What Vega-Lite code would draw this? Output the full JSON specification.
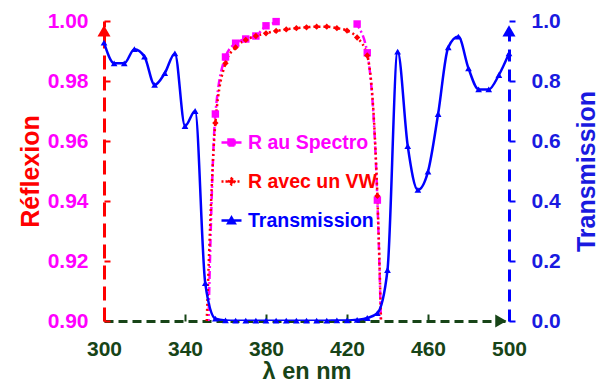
{
  "$schema": "https://vega.github.io/schema/vega-lite/v6.json",
  "width": 405,
  "height": 300,
  "autosize": {"type": "none"},
  "padding": {"left": 104, "top": 21, "right": 91, "bottom": 62},
  "background": "white",
  "config": {
    "view": {"stroke": null},
    "font": "Liberation Sans",
    "axis": {"grid": false, "labelFlush": false, "labelOverlap": false}
  },
  "datasets": {
    "refl": [
      {"lambda": 350, "R": 0.85, "series": "R au Spectro"},
      {"lambda": 355, "R": 0.969, "series": "R au Spectro"},
      {"lambda": 360, "R": 0.988, "series": "R au Spectro"},
      {"lambda": 365, "R": 0.9926, "series": "R au Spectro"},
      {"lambda": 370, "R": 0.994, "series": "R au Spectro"},
      {"lambda": 375, "R": 0.995, "series": "R au Spectro"},
      {"lambda": 380, "R": 0.9984, "series": "R au Spectro"},
      {"lambda": 385, "R": 0.9998, "series": "R au Spectro"},
      {"lambda": 390, "R": 1.004, "series": "R au Spectro"},
      {"lambda": 395, "R": 1.006, "series": "R au Spectro"},
      {"lambda": 400, "R": 1.007, "series": "R au Spectro"},
      {"lambda": 405, "R": 1.007, "series": "R au Spectro"},
      {"lambda": 410, "R": 1.007, "series": "R au Spectro"},
      {"lambda": 415, "R": 1.006, "series": "R au Spectro"},
      {"lambda": 420, "R": 1.004, "series": "R au Spectro"},
      {"lambda": 425, "R": 0.999, "series": "R au Spectro"},
      {"lambda": 430, "R": 0.9894, "series": "R au Spectro"},
      {"lambda": 435, "R": 0.9403, "series": "R au Spectro"},
      {"lambda": 440, "R": 0.8, "series": "R au Spectro"},
      {"lambda": 350, "R": 0.885, "series": "R avec un VW"},
      {"lambda": 355, "R": 0.966, "series": "R avec un VW"},
      {"lambda": 360, "R": 0.9859, "series": "R avec un VW"},
      {"lambda": 365, "R": 0.9912, "series": "R avec un VW"},
      {"lambda": 370, "R": 0.9937, "series": "R avec un VW"},
      {"lambda": 375, "R": 0.995, "series": "R avec un VW"},
      {"lambda": 380, "R": 0.9959, "series": "R avec un VW"},
      {"lambda": 385, "R": 0.9967, "series": "R avec un VW"},
      {"lambda": 390, "R": 0.9972, "series": "R avec un VW"},
      {"lambda": 395, "R": 0.9976, "series": "R avec un VW"},
      {"lambda": 400, "R": 0.9979, "series": "R avec un VW"},
      {"lambda": 405, "R": 0.9981, "series": "R avec un VW"},
      {"lambda": 410, "R": 0.9981, "series": "R avec un VW"},
      {"lambda": 415, "R": 0.9976, "series": "R avec un VW"},
      {"lambda": 420, "R": 0.9968, "series": "R avec un VW"},
      {"lambda": 425, "R": 0.9945, "series": "R avec un VW"},
      {"lambda": 430, "R": 0.9885, "series": "R avec un VW"},
      {"lambda": 435, "R": 0.9417, "series": "R avec un VW"},
      {"lambda": 440, "R": 0.8, "series": "R avec un VW"}
    ],
    "trans": [
      {"lambda": 300, "T": 0.928, "series": "Transmission"},
      {"lambda": 305, "T": 0.859, "series": "Transmission"},
      {"lambda": 310, "T": 0.859, "series": "Transmission"},
      {"lambda": 315, "T": 0.906, "series": "Transmission"},
      {"lambda": 320, "T": 0.881, "series": "Transmission"},
      {"lambda": 325, "T": 0.787, "series": "Transmission"},
      {"lambda": 330, "T": 0.826, "series": "Transmission"},
      {"lambda": 335, "T": 0.892, "series": "Transmission"},
      {"lambda": 340, "T": 0.65, "series": "Transmission"},
      {"lambda": 345, "T": 0.7, "series": "Transmission"},
      {"lambda": 350, "T": 0.126, "series": "Transmission"},
      {"lambda": 355, "T": 0.008, "series": "Transmission"},
      {"lambda": 360, "T": 0.002, "series": "Transmission"},
      {"lambda": 365, "T": 0.001, "series": "Transmission"},
      {"lambda": 370, "T": 0.001, "series": "Transmission"},
      {"lambda": 375, "T": 0.001, "series": "Transmission"},
      {"lambda": 380, "T": 0.001, "series": "Transmission"},
      {"lambda": 385, "T": 0.001, "series": "Transmission"},
      {"lambda": 390, "T": 0.001, "series": "Transmission"},
      {"lambda": 395, "T": 0.001, "series": "Transmission"},
      {"lambda": 400, "T": 0.001, "series": "Transmission"},
      {"lambda": 405, "T": 0.001, "series": "Transmission"},
      {"lambda": 410, "T": 0.001, "series": "Transmission"},
      {"lambda": 415, "T": 0.002, "series": "Transmission"},
      {"lambda": 420, "T": 0.002, "series": "Transmission"},
      {"lambda": 425, "T": 0.004, "series": "Transmission"},
      {"lambda": 430, "T": 0.01, "series": "Transmission"},
      {"lambda": 435, "T": 0.026, "series": "Transmission"},
      {"lambda": 440, "T": 0.17, "series": "Transmission"},
      {"lambda": 445, "T": 0.898, "series": "Transmission"},
      {"lambda": 450, "T": 0.583, "series": "Transmission"},
      {"lambda": 455, "T": 0.437, "series": "Transmission"},
      {"lambda": 460, "T": 0.498, "series": "Transmission"},
      {"lambda": 465, "T": 0.69, "series": "Transmission"},
      {"lambda": 470, "T": 0.912, "series": "Transmission"},
      {"lambda": 475, "T": 0.948, "series": "Transmission"},
      {"lambda": 480, "T": 0.842, "series": "Transmission"},
      {"lambda": 485, "T": 0.772, "series": "Transmission"},
      {"lambda": 490, "T": 0.772, "series": "Transmission"},
      {"lambda": 495, "T": 0.82, "series": "Transmission"},
      {"lambda": 500, "T": 0.892, "series": "Transmission"}
    ]
  },
  "layer": [
    {
      "data": {"name": "refl"},
      "layer": [
        {
          "mark": {"type": "line", "clip": true, "interpolate": "monotone", "strokeWidth": 2.5},
          "encoding": {
            "x": {
              "field": "lambda", "type": "quantitative",
              "scale": {"domain": [300, 500], "nice": false, "zero": false},
              "axis": {
                "values": [300, 340, 380, 420, 460, 500], "format": "d",
                "title": "λ en nm", "titleFontSize": 23.5, "titleFontWeight": "bold", "titleColor": "#174417", "titlePadding": 0,
                "labelFontSize": 21, "labelFontWeight": "bold", "labelColor": "#174417", "labelPadding": 24,
                "domainColor": "#174417", "domainDash": [9, 5], "domainWidth": 3,
                "tickColor": "#174417", "tickSize": -7, "tickWidth": 2
              }
            },
            "y": {
              "field": "R", "type": "quantitative",
              "scale": {"domain": [0.9, 1.0], "nice": false, "zero": false},
              "axis": {
                "orient": "left", "values": [0.9, 0.92, 0.94, 0.96, 0.98, 1.0], "format": ".2f",
                "title": "Réflexion", "titleFontSize": 25, "titleFontWeight": "bold", "titleColor": "#ff0000", "titlePadding": 4,
                "labelFontSize": 21, "labelFontWeight": "bold", "labelColor": "#ff00ff", "labelPadding": 22,
                "domainColor": "#ff0000", "domainDash": [14, 7], "domainWidth": 3,
                "tickColor": "#ff0000", "tickSize": -6, "tickWidth": 2
              }
            },
            "color": {
              "field": "series", "type": "nominal",
              "scale": {"domain": ["R au Spectro", "R avec un VW", "Transmission"], "range": ["#ff00ff", "#ff0000", "#0000ff"]},
              "legend": {
                "orient": "none", "legendX": 116, "legendY": 110, "title": null,
                "labelFontSize": 19.5, "labelFontWeight": "bold", "labelOffset": 5,
                "symbolSize": 400, "symbolStrokeWidth": 2.5, "rowPadding": 18, "padding": 0,
                "encode": {
                  "symbols": {"update": {
                    "shape": {"signal": "datum.value === 'R au Spectro' ? 'M-1,0H1M-0.3,-0.3H0.3V0.3H-0.3Z' : datum.value === 'R avec un VW' ? 'M-1,0H1M0,-0.3L0.3,0L0,0.3L-0.3,0Z' : 'M-1,0H1M-0.33,0.28L0,-0.3L0.33,0.28Z'"},
                    "fill": {"signal": "datum.value === 'R au Spectro' ? '#ff00ff' : datum.value === 'R avec un VW' ? '#ff0000' : '#0000ff'"},
                    "stroke": {"signal": "datum.value === 'R au Spectro' ? '#ff00ff' : datum.value === 'R avec un VW' ? '#ff0000' : '#0000ff'"},
                    "strokeDash": {"signal": "datum.value === 'R avec un VW' ? [2, 2] : [1, 0]"},
                    "opacity": {"value": 1}
                  }},
                  "labels": {"update": {
                    "fill": {"signal": "datum.value === 'R au Spectro' ? '#ff00ff' : datum.value === 'R avec un VW' ? '#ff0000' : '#0000ff'"}
                  }}
                }
              }
            },
            "strokeDash": {
              "field": "series", "type": "nominal",
              "scale": {"domain": ["R au Spectro", "R avec un VW"], "range": [[8, 3, 2, 3], [2, 3]]},
              "legend": null
            }
          }
        },
        {
          "transform": [{"filter": "datum.series === 'R au Spectro' && datum.R >= 0.9 && datum.R <= 1.0"}],
          "mark": {"type": "point", "shape": "square", "filled": true, "size": 55, "opacity": 1, "color": "#ff00ff"},
          "encoding": {
            "x": {"field": "lambda", "type": "quantitative"},
            "y": {"field": "R", "type": "quantitative"}
          }
        },
        {
          "transform": [{"filter": "datum.series === 'R avec un VW' && datum.R >= 0.9 && datum.R <= 1.0"}],
          "mark": {"type": "point", "shape": "diamond", "filled": true, "size": 40, "opacity": 1, "color": "#ff0000"},
          "encoding": {
            "x": {"field": "lambda", "type": "quantitative"},
            "y": {"field": "R", "type": "quantitative"}
          }
        },
        {
          "data": {"values": [{"what": "arrow"}]},
          "mark": {"type": "point", "shape": "triangle-up", "filled": true, "size": 170, "opacity": 1, "color": "#ff0000"},
          "encoding": {
            "x": {"datum": 300, "type": "quantitative"},
            "y": {"datum": 0.9967, "type": "quantitative"}
          }
        },
        {
          "data": {"values": [{"what": "arrow"}]},
          "mark": {"type": "point", "shape": "triangle-right", "filled": true, "size": 170, "opacity": 1, "color": "#174417"},
          "encoding": {
            "x": {"datum": 496, "type": "quantitative"},
            "y": {"datum": 0.9, "type": "quantitative"}
          }
        }
      ]
    },
    {
      "data": {"name": "trans"},
      "layer": [
        {
          "mark": {"type": "line", "clip": true, "interpolate": "monotone", "strokeWidth": 2.5},
          "encoding": {
            "x": {"field": "lambda", "type": "quantitative"},
            "y": {
              "field": "T", "type": "quantitative",
              "scale": {"domain": [0, 1], "nice": false, "zero": false},
              "axis": {
                "orient": "right", "values": [0, 0.2, 0.4, 0.6, 0.8, 1.0], "format": ".1f",
                "title": "Transmission", "titleFontSize": 25, "titleFontWeight": "bold", "titleColor": "#1a1ae0", "titlePadding": 14,
                "titleAngle": 270, "titleBaseline": "top",
                "labelFontSize": 21, "labelFontWeight": "bold", "labelColor": "#1a1ae0", "labelPadding": 16,
                "domainColor": "#0000ff", "domainDash": [12, 8], "domainWidth": 3,
                "tickColor": "#0000ff", "tickSize": 6, "tickWidth": 2
              }
            },
            "color": {"field": "series", "type": "nominal"}
          }
        },
        {
          "mark": {"type": "point", "shape": "triangle-up", "filled": true, "size": 45, "opacity": 1, "color": "#0000ff"},
          "encoding": {
            "x": {"field": "lambda", "type": "quantitative"},
            "y": {"field": "T", "type": "quantitative"}
          }
        },
        {
          "data": {"values": [{"what": "arrow"}]},
          "mark": {"type": "point", "shape": "triangle-up", "filled": true, "size": 170, "opacity": 1, "color": "#0000ff"},
          "encoding": {
            "x": {"datum": 500, "type": "quantitative"},
            "y": {"datum": 0.967, "type": "quantitative"}
          }
        }
      ]
    }
  ],
  "resolve": {"scale": {"y": "independent"}}
}
